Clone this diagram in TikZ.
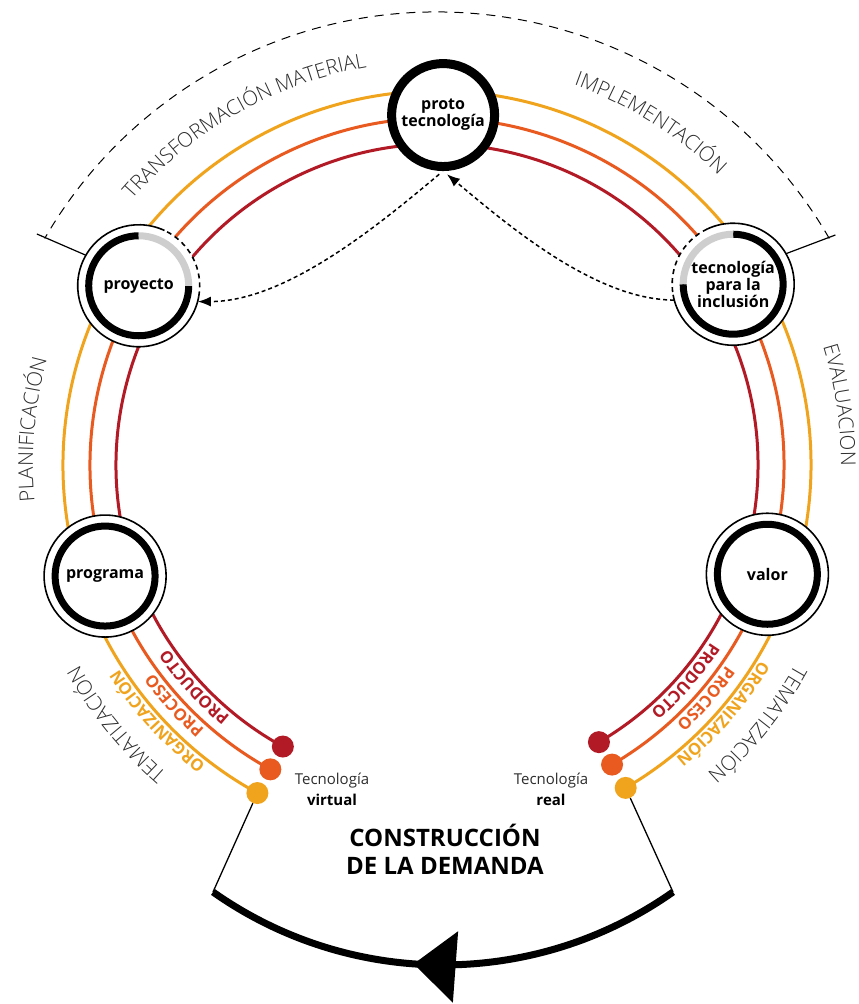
\documentclass[tikz,border=0pt]{standalone}
\usepackage{fontspec}
\setmainfont{Open Sans}
\IfFontExistsTF{Open Sans Light}{\newfontfamily\thinfont{Open Sans Light}}{\newfontfamily\thinfont{Open Sans}}
\usepackage{tikz}
\usetikzlibrary{arrows.meta,positioning,calc,decorations.text,decorations.markings}
\definecolor{prodred}{RGB}{178,26,38}
\definecolor{procorange}{RGB}{232,90,32}
\definecolor{orgyellow}{RGB}{240,164,30}
\definecolor{ringgray}{RGB}{206,206,206}
\definecolor{inkgray}{RGB}{45,45,45}
\newcommand{\arcfont}{\thinfont\fontsize{20.5}{20.5}\selectfont}
\newcommand{\tagfont}{\bfseries\fontsize{16.5}{16.5}\selectfont}
\newcommand{\stagefont}{\bfseries\fontsize{16}{15.5}\selectfont}

\begin{document}
\begin{tikzpicture}[x=1pt, y=1pt,
  stage/.style={circle, fill=white, draw, line width=1.6pt, minimum size=122pt,
                inner sep=0pt, align=center, font=\stagefont},
  halo/.style={circle, fill=white, minimum size=122pt, inner sep=0pt,
               align=center, font=\stagefont},
  core/.style={circle, fill=white, draw, line width=9pt, minimum size=103pt,
               inner sep=0pt, align=center, font=\stagefont},
  ring/.style={line width=7pt},
  rim/.style={line width=1.6pt},
  band/.style={line width=3pt},
  dot/.style={circle, inner sep=0pt, minimum size=22pt},
  tickline/.style={line width=1.2pt},
  outerdash/.style={line width=1pt, dash pattern=on 9pt off 7pt},
  dasharr/.style={-{Latex[length=13pt,width=10pt]}, line width=1.5pt,
                  dash pattern=on 4pt off 3pt},
  link/.style={line width=1.3pt},
  cycleback/.style={line width=7pt, postaction={decorate, decoration={markings,
                    mark=at position 0.56 with {\arrow{Triangle[length=42pt,width=70pt]}}}}},
  techlabel/.style={align=center, font=\fontsize{15}{21}\selectfont, text=inkgray},
  demand/.style={align=center, font=\bfseries\fontsize{24}{28}\selectfont},
  arctext/.style={decorate, decoration={text along path, text align=center,
                  text color=inkgray, text={|\arcfont|#1}}},
  tagtext/.style 2 args={decorate, decoration={text along path, text align=center,
                  text color=#1, text={|\tagfont|#2}}}
]
\useasboundingbox (-437,465) rectangle (422,-539);

\foreach \col/\r/\nm in {prodred/321/prod, procorange/347/proc, orgyellow/374/org}{
  \draw[band, \col] (-59.7:\r) arc[start angle=-59.7, end angle=241.3, radius=\r];
  \node[dot, fill=\col] (\nm-R) at (-59.7:\r) {};
  \node[dot, fill=\col] (\nm-L) at (241.3:\r) {};
}

\draw[outerdash] (30:453) arc[start angle=30, end angle=150, radius=453];

\node[core] (proto) at (89:350) {proto\\tecnología};
\node[halo] (proy) at (149:348) {proyecto};
\node[halo] (incl) at (31.4:347) {tecnología\\para la\\inclusión};
\node[stage] (prog) at (198.5:350) {programa};
\node[stage] (valor) at (-18.3:348) {valor};

\draw[ring] (prog.center) circle[radius=50];
\draw[ring] (valor.center) circle[radius=50];
\draw[rim] (proy.center) ++(65:61) arc[start angle=65, end angle=350, radius=61];
\draw[rim, dash pattern=on 5pt off 4pt] (proy.center) ++(-10:61) arc[start angle=-10, end angle=65, radius=61];
\draw[ring] (proy.center) ++(90:50) arc[start angle=90, end angle=360, radius=50];
\draw[ring, ringgray] (proy.center) ++(0:50) arc[start angle=0, end angle=90, radius=50];
\draw[rim] (incl.center) ++(190:61) arc[start angle=190, end angle=475, radius=61];
\draw[rim, dash pattern=on 5pt off 4pt] (incl.center) ++(115:61) arc[start angle=115, end angle=190, radius=61];
\draw[ring] (incl.center) ++(180:50) arc[start angle=180, end angle=450, radius=50];
\draw[ring, ringgray] (incl.center) ++(90:50) arc[start angle=90, end angle=180, radius=50];

\coordinate (tickL) at (150:462);
\coordinate (tickR) at (30:460);
\draw[tickline] (proy.150) -- (tickL);
\draw[tickline] (incl.30) -- (tickR);

\draw[dasharr, shorten >=5pt] (incl.195) .. controls +(-80,0) and +(60,-50) .. (proto.south);
\draw[dasharr, shorten <=5pt] (proto.south) .. controls +(-60,-50) and +(90,0) .. (proy.-15);

\path[arctext={TRANSFORMACIÓN MATERIAL}] (150:404) arc[start angle=150, end angle=89, radius=404];
\path[arctext={IMPLEMENTACIÓN}] (80:404) arc[start angle=80, end angle=36, radius=404];
\path[arctext={PLANIFICACIÓN}] (195:404) arc[start angle=195, end angle=155, radius=404];
\path[arctext={EVALUACION}] (30:404) arc[start angle=30, end angle=-13, radius=404];
\path[arctext={TEMATIZACIÓN}] (249:410) arc[start angle=249, end angle=189, radius=410];
\path[arctext={TEMATIZACIÓN}] (-9:410) arc[start angle=-9, end angle=-69, radius=410];

\path[tagtext={prodred}{PRODUCTO}] (252:326) arc[start angle=252, end angle=193, radius=326];
\path[tagtext={procorange}{PROCESO}] (252:352) arc[start angle=252, end angle=193, radius=352];
\path[tagtext={orgyellow}{ORGANIZACIÓN}] (252:378) arc[start angle=252, end angle=193, radius=378];
\path[tagtext={prodred}{PRODUCTO}] (-11:326) arc[start angle=-11, end angle=-71, radius=326];
\path[tagtext={procorange}{PROCESO}] (-11:352) arc[start angle=-11, end angle=-71, radius=352];
\path[tagtext={orgyellow}{ORGANIZACIÓN}] (-11:378) arc[start angle=-11, end angle=-71, radius=378];

\node[techlabel] (virt) at (-105,-324) {Tecnología\\{\color{black}\bfseries virtual}};
\node[techlabel] (real) at (114,-324) {Tecnología\\{\color{black}\bfseries real}};
\node[demand] (dem) at (8,-384) {CONSTRUCCIÓN\\DE LA DEMANDA};

\coordinate (demL) at (-224,-427);
\coordinate (demR) at (236,-427);
\draw[link] (org-L) -- (demL);
\draw[link] (org-R) -- (demR);
\draw[cycleback] (demR) arc[start angle=305.2, end angle=234.8, radius=399];
\end{tikzpicture}
\end{document}
